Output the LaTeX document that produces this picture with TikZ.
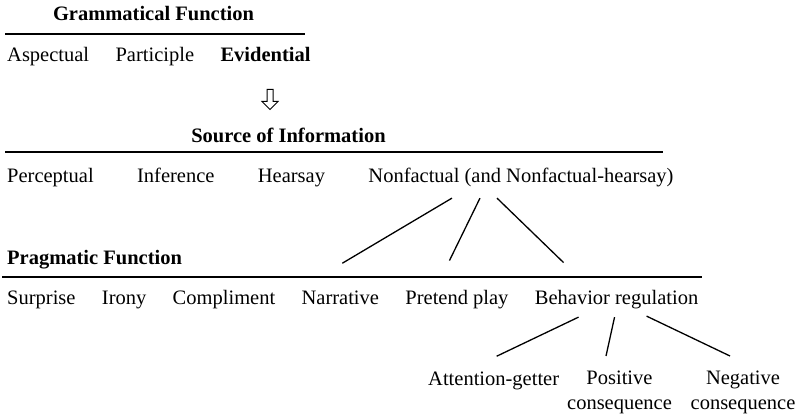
\documentclass[tikz,border=0pt]{standalone}
\usepackage{fontspec}
\setmainfont{Liberation Serif}
\usetikzlibrary{positioning,shapes.arrows}

\begin{document}
\begin{tikzpicture}[x=1pt, y=-1pt]

% Fix the size of the whole figure
\useasboundingbox (0,0) rectangle (802,419);

% Define styles for labels, headings, rules and links
\tikzstyle{lbl}=[inner sep=0pt, font=\fontsize{20.5}{25}\selectfont]
\tikzstyle{head}=[inner sep=0pt, font=\fontsize{20.5}{25}\selectfont\bfseries]
\tikzstyle{rule}=[line width=1.8pt]
\tikzstyle{link}=[line width=1.3pt]

% Grammatical function
\node[head, anchor=base] (gram) at (153.5,21) {Grammatical Function};
\draw[rule] (5,34) -- (305,34);
\node[lbl, anchor=base west] (asp) at (7,62) {Aspectual};
\node[lbl, base right=26pt of asp] (part) {Participle};
\node[head, base right=26pt of part] (evid) {Evidential};

% Hollow arrow down to the next level
\node[single arrow, draw, shape border rotate=270, minimum height=20pt,
      single arrow head extend=5pt, inner sep=2.5pt,
      line width=1pt] (arr) at (270,98) {};

% Source of information
\node[head, anchor=base] (src) at (288.5,143) {Source of Information};
\draw[rule] (5,152) -- (663,152);
\node[lbl, anchor=base west] (perc) at (7,183) {Perceptual};
\node[lbl, base right=43pt of perc] (infer) {Inference};
\node[lbl, base right=43pt of infer] (hear) {Hearsay};
\node[lbl, base right=43pt of hear] (nonf) {Nonfactual (and Nonfactual-hearsay)};

% Pragmatic function
\node[head, anchor=base west] (prag) at (7,265) {Pragmatic Function};
\draw[rule] (2,277) -- (702,277);
\node[lbl, anchor=base west] (surp) at (7,305) {Surprise};
\node[lbl, base right=26pt of surp] (irony) {Irony};
\node[lbl, base right=26pt of irony] (compl) {Compliment};
\node[lbl, base right=26pt of compl] (narr) {Narrative};
\node[lbl, base right=26pt of narr] (pret) {Pretend play};
\node[lbl, base right=26pt of pret] (breg) {Behavior regulation};

% Kinds of behavior regulation
\node[lbl, anchor=base west] (att) at (428,385) {Attention-getter};
\node[lbl, align=center, anchor=north] (pos) at (619.5,371) {Positive\\consequence};
\node[lbl, align=center, anchor=north] (neg) at (743,371) {Negative\\consequence};

% Links from nonfactual
\draw[link] ([xshift=-69pt, yshift=-10.5pt]nonf.south) -- ([xshift=2pt, yshift=28pt]narr.north);
\draw[link] ([xshift=-41pt, yshift=-10.5pt]nonf.south) -- ([xshift=-7.5pt, yshift=30pt]pret.north);
\draw[link] ([xshift=-24pt, yshift=-10.5pt]nonf.south) -- ([xshift=-53pt, yshift=28pt]breg.north);

% Links from behavior regulation
\draw[link] ([xshift=-38pt, yshift=-7.5pt]breg.south) -- ([xshift=3pt, yshift=15pt]att.north);
\draw[link] ([xshift=-2pt, yshift=-7.5pt]breg.south) -- ([xshift=-13.5pt, yshift=15pt]pos.north);
\draw[link] ([xshift=30pt, yshift=-6.5pt]breg.south) -- ([xshift=-13pt, yshift=15pt]neg.north);

\end{tikzpicture}
\end{document}
